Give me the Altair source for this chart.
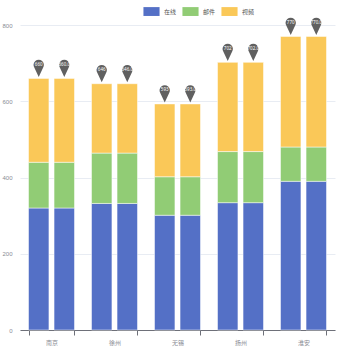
import altair as alt
import pandas as pd

cities = ["南京", "徐州", "无锡", "扬州", "淮安"]
series_names = ["在线", "邮件", "视频"]
blue_vals = [320, 332, 301, 334, 390]
green_vals = [120, 132, 101, 134, 90]
yellow_vals = [220, 182, 191, 234, 290]
groups = ["A", "B"]
colors = ["#5470c6", "#91cc75", "#fac858"]

rows = []
for g in groups:
    for si, (name, vals) in enumerate(zip(series_names, [blue_vals, green_vals, yellow_vals])):
        for c, v in zip(cities, vals):
            rows.append({"city": c, "grp": g, "series": name, "value": v, "ord": si})
df = pd.DataFrame(rows)

pins = []
for g in groups:
    for i, c in enumerate(cities):
        tot = blue_vals[i] + green_vals[i] + yellow_vals[i]
        pins.append({"city": c, "grp": g, "total": tot,
                     "label": str(tot) if g == "A" else f"{tot}.0"})
pdf = pd.DataFrame(pins)

xscale = alt.Scale(domain=cities, paddingInner=0.27, paddingOuter=0.135)
yscale = alt.Scale(domain=[0, 800])
xoff = alt.XOffset("grp:N", scale=alt.Scale(domain=groups, paddingInner=0.2, paddingOuter=0))

bars = alt.Chart(df).mark_bar(stroke="white", strokeWidth=0.5).encode(
    x=alt.X("city:N", scale=xscale, sort=cities, title=None,
            axis=alt.Axis(labelAngle=0, tickBand="extent", domainColor="#6e7079",
                          tickColor="#6e7079", tickSize=5, labelColor="#8a8c94",
                          labelFontSize=6, labelPadding=4,
                          labelFont="Noto Sans CJK SC")),
    xOffset=xoff,
    y=alt.Y("value:Q", stack="zero", scale=yscale, title=None,
            axis=alt.Axis(values=[0, 200, 400, 600, 800], domain=False, ticks=False,
                          gridColor="#e8ecf3", labelColor="#8a8c94", labelFontSize=6,
                          labelPadding=8)),
    color=alt.Color("series:N", scale=alt.Scale(domain=series_names, range=colors),
                    sort=series_names,
                    legend=alt.Legend(title=None, orient="none", direction="horizontal",
                                      legendX=123, legendY=-22,
                                      symbolType="M-1,-0.55 L1,-0.55 L1,0.55 L-1,0.55 Z",
                                      symbolSize=260, symbolStrokeWidth=0,
                                      labelFontSize=6, labelColor="#555555",
                                      labelFont="Noto Sans CJK SC",
                                      columnPadding=5, symbolOffset=0)),
    order=alt.Order("ord:Q", sort="ascending"),
)

pin_path = "M0,1 L-0.5,-0.07 A0.6,0.6 0 1 1 0.5,-0.07 Z"
pinmarks = alt.Chart(pdf).mark_point(shape=pin_path, size=300, filled=True,
                                     color="#606060", opacity=1, yOffset=-10).encode(
    x=alt.X("city:N", scale=xscale, sort=cities),
    xOffset=xoff,
    y=alt.Y("total:Q", scale=yscale),
)
pintext = alt.Chart(pdf).mark_text(fontSize=4.5, color="white", yOffset=-13.5,
                                   font="Noto Sans").encode(
    x=alt.X("city:N", scale=xscale, sort=cities),
    xOffset=xoff,
    y=alt.Y("total:Q", scale=yscale),
    text="label:N",
)

chart = alt.layer(bars, pinmarks, pintext).properties(
    width=315, height=305,
    background="white",
    autosize=alt.AutoSizeParams(type="none"),
    padding={"left": 20, "top": 25, "right": 15, "bottom": 20},
).configure_view(stroke=None)

chart.save("out.html", embed_options={"renderer": "svg", "actions": False})
